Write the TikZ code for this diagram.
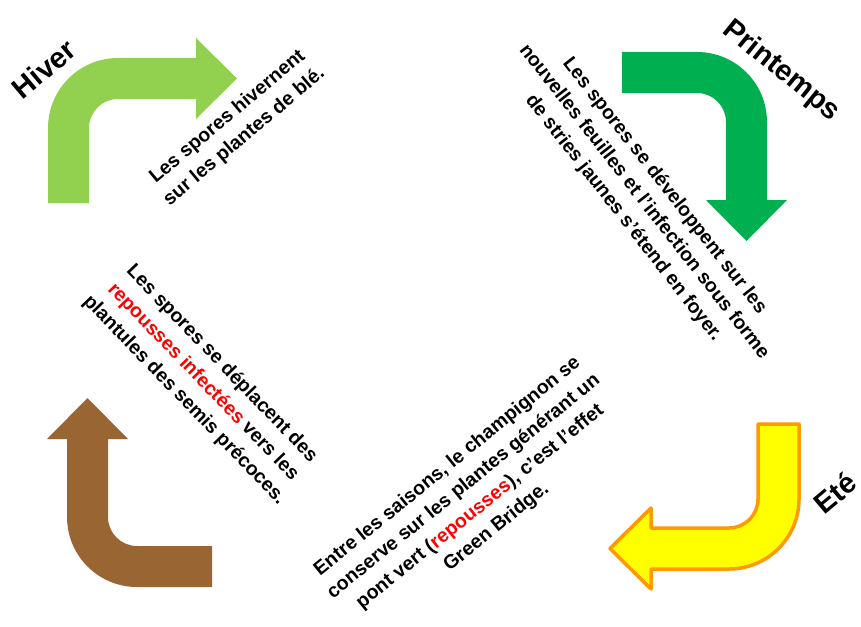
\documentclass[tikz,border=0pt]{standalone}
\usepackage{fontspec}
\setmainfont{Liberation Sans}
\definecolor{hivergreen}{HTML}{92D050}
\definecolor{printgreen}{HTML}{00B050}
\definecolor{etefill}{HTML}{FFFF00}
\definecolor{eteline}{HTML}{FF9900}
\definecolor{brownarrow}{HTML}{996633}
\definecolor{redword}{HTML}{FF0000}
\tikzset{
  bentarrow/.pic={
    \path[pic actions] (-70,75) -- (-70,0)
      .. controls (-70,-38.66) and (-38.66,-70) .. (0,-70)
      -- (78,-70) -- (78,-90) -- (119,-49.5) -- (78,-9) -- (78,-29) -- (0,-29)
      .. controls (-16.02,-29) and (-29,-16.02) .. (-29,0)
      -- (-29,75) -- cycle;
  },
  seasontitle/.style={font=\bfseries\fontsize{29}{33}\selectfont, inner sep=0pt},
  desctext/.style={font=\bfseries\fontsize{19.5}{26}\selectfont, align=center, inner sep=0pt}
}
\begin{document}
\begin{tikzpicture}[x=1pt,y=-1pt]
\useasboundingbox (0,0) rectangle (861,626);
% arrows
\pic[fill=hivergreen] at (118,128) {bentarrow};
\pic[fill=printgreen, rotate=-90] at (697,122) {bentarrow};
\pic[fill=etefill, draw=eteline, line width=3.5pt, line join=round, rotate=180] at (729,499) {bentarrow};
\pic[fill=brownarrow, rotate=90] at (137,517) {bentarrow};
% titles
\node[seasontitle, rotate=40] (hiver) at (44,69) {Hiver};
\node[seasontitle, rotate=-39] (printemps) at (781,71) {Printemps};
\node[seasontitle, rotate=40] (ete) at (835,493) {Eté};
% descriptions
\node[desctext, rotate=40] (dhiver) at (236,127) {Les spores hivernent\\sur les plantes de blé.};
\node[desctext, rotate=-52] (dprint) at (644,202) {Les spores se développent sur les\\nouvelles feuilles et l’infection sous forme\\de stries jaunes s’étend en foyer.};
\node[desctext, rotate=39] (dete) at (472,497) {Entre les saisons, le champignon se\\conserve sur les plantes générant un\\pont vert (\textcolor{redword}{repousses}), c’est l’effet\\Green Bridge.};
\node[desctext, rotate=-46] (dautomne) at (203,382) {Les spores se déplacent des\\\textcolor{redword}{repousses infectées} vers les\\plantules des semis précoces.};
\end{tikzpicture}
\end{document}
